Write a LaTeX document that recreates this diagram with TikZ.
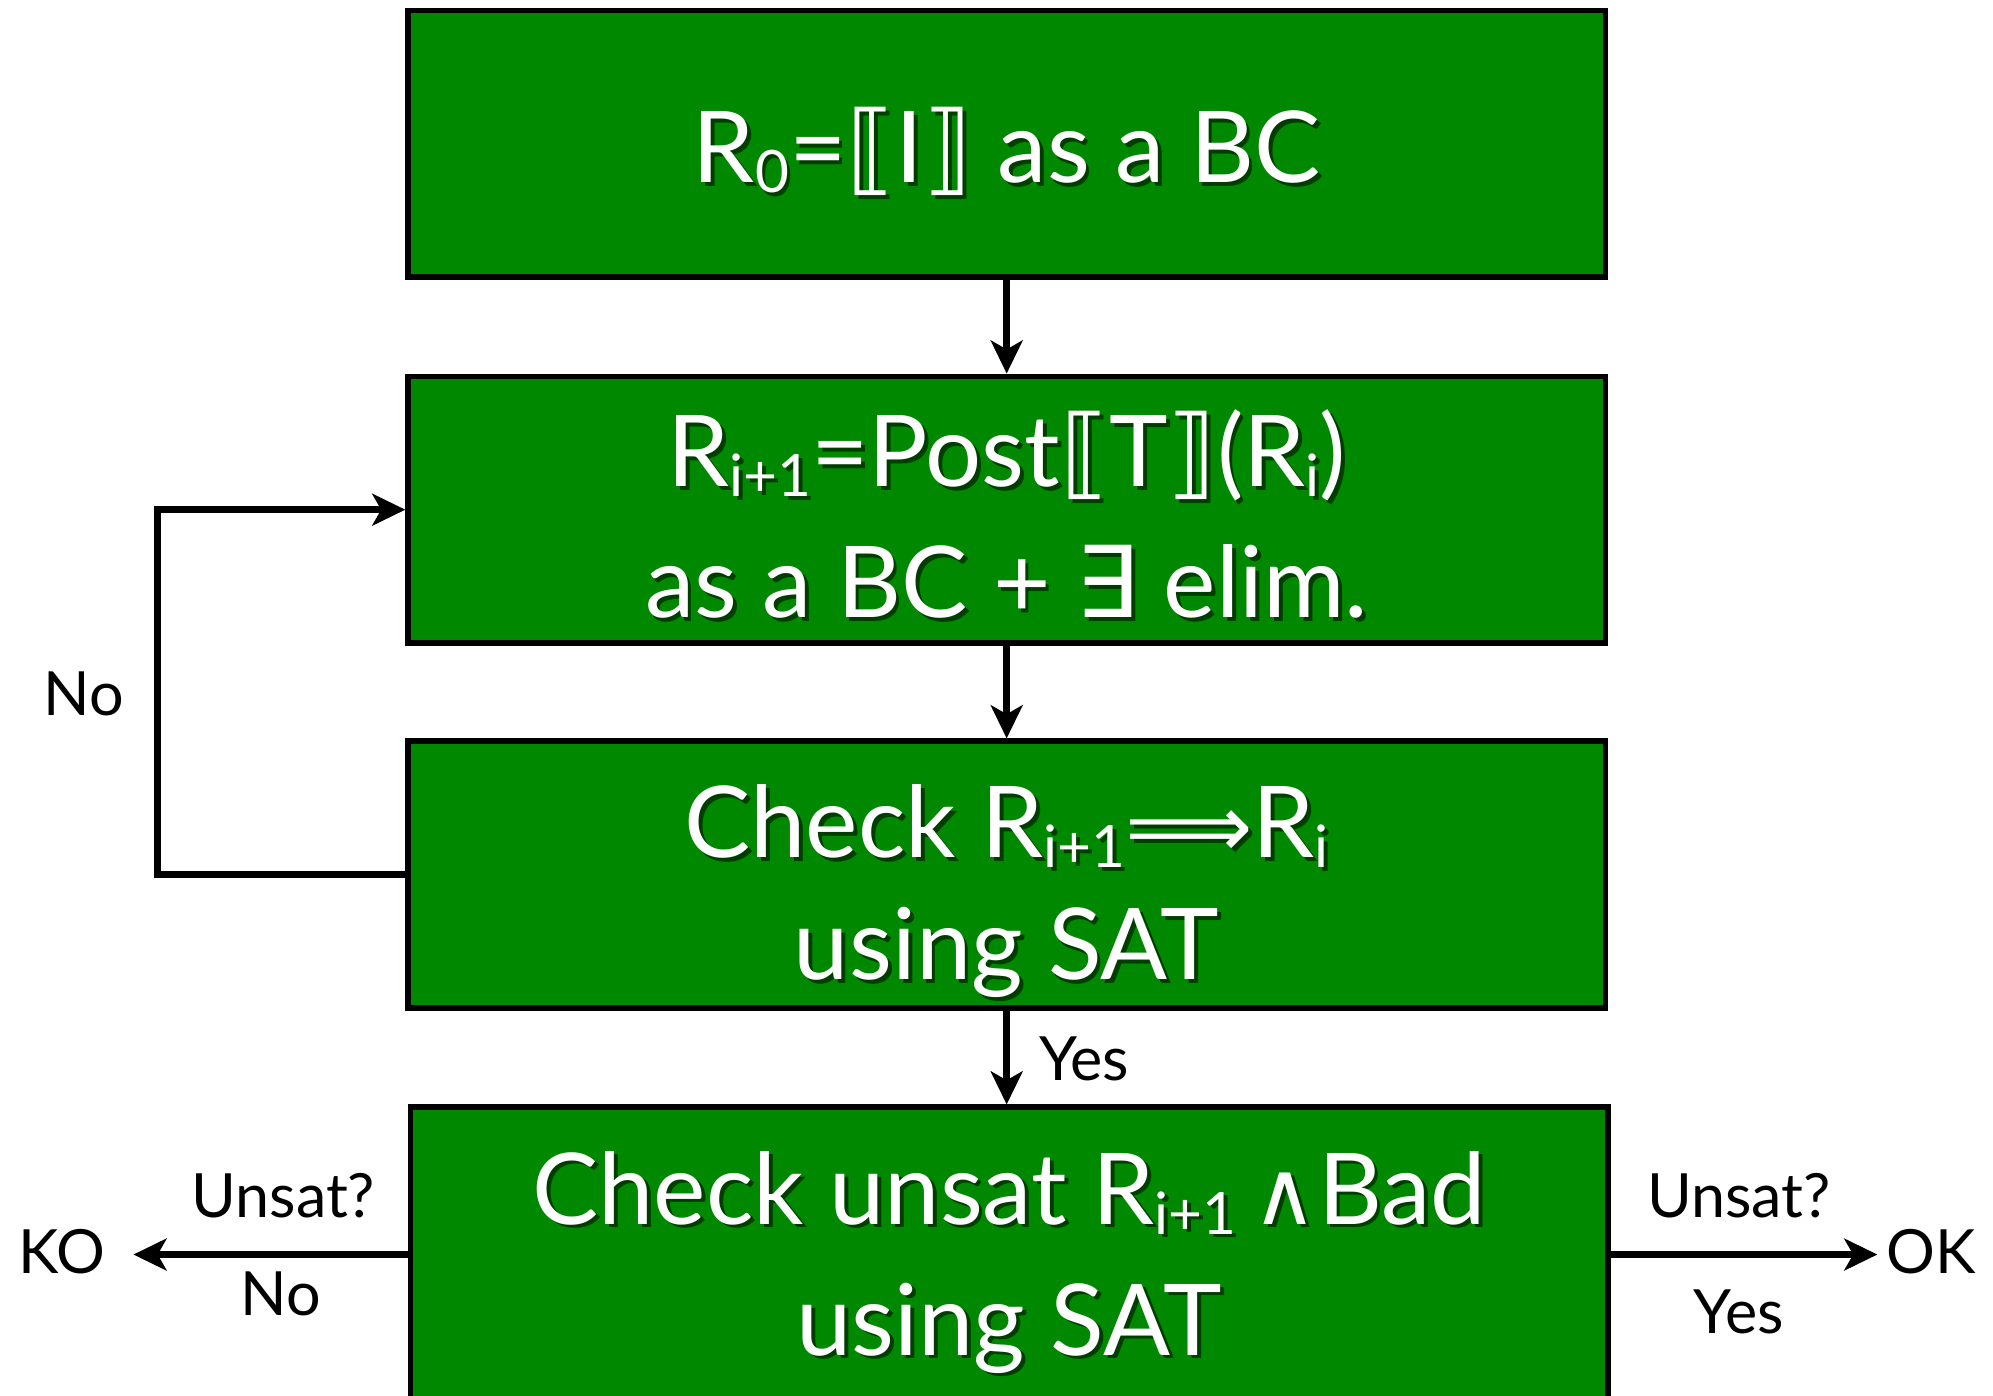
\documentclass[tikz,border=0pt]{standalone}
\usepackage{fontspec}
\setmainfont{Lato}
\newfontfamily\symfont{DejaVu Sans}
\usetikzlibrary{arrows.meta}
\definecolor{boxgreen}{RGB}{0,136,0}
\definecolor{shadowgreen}{RGB}{0,62,0}
% math symbols taken from DejaVu Sans
\newcommand\sym[1]{{\symfont #1}}
% lowered, smaller index
\newcommand\lowsub[1]{\raisebox{-0.1em}{\fontsize{46}{46}\selectfont #1}}
% white text with a dark drop shadow
\newcommand\shd[1]{\makebox[0pt][l]{\hspace{3pt}\raisebox{-3pt}{\textcolor{shadowgreen}{#1}}}#1}
% box contents: centred lines, drawn #1 lower than their centred place
\newcommand\boxlines[2]{\raisebox{-#1}[\height][\depth]{\begin{tabular}{@{}c@{}}#2\end{tabular}}}
\begin{document}
\begin{tikzpicture}[x=1pt,y=-1pt,
  box/.style={draw=black, line width=4.2pt, fill=boxgreen, text=white,
    minimum width=942pt, inner sep=0pt,
    font=\fontsize{78}{103}\selectfont},
  arr/.style={line width=5.6pt, -{Stealth[length=26pt,width=25pt,inset=7pt]}},
  lbl/.style={font=\fontsize{48}{58}\selectfont, inner sep=0pt}]
\clip (0,0) rectangle (1568,1098);

% process boxes
\node[box, minimum height=210pt] (b1) at (792,113)
  {\boxlines{10pt}{\shd{R\lowsub{0}=\sym{⟦}I\sym{⟧} as a BC}}};
\node[box, minimum height=210pt] (b2) at (792,401)
  {\boxlines{13pt}{\shd{R\lowsub{i+1}=Post\sym{⟦}T\sym{⟧}(R\lowsub{i})}\\\shd{as a BC + \sym{∃} elim.}}};
\node[box, minimum height=210pt] (b3) at (792,688)
  {\boxlines{14pt}{\shd{Check R\lowsub{i+1}{\fontsize{70}{70}\symfont ⟹}R\lowsub{i}}\\[-7pt]\shd{using SAT}}};
\node[box, minimum height=232pt] (b4) at (794,987)
  {\boxlines{7pt}{\shd{Check unsat R\lowsub{i+1}\,{\fontsize{70}{70}\symfont ∧}Bad}\\\shd{using SAT}}};

% outcome nodes
\node[lbl, anchor=base east, outer xsep=22pt] (ko) at (105,1002) {KO};
\node[lbl, anchor=base west, outer xsep=7pt] (ok) at (1477,1002) {OK};

% connectors
\draw[arr] (b1.south) -- (b2.north);
\draw[arr] (b2.south) -- (b3.north);
\draw[arr] (b3.south) -- (b3.south |- b4.north);
\coordinate (lp) at (124,688);
\draw[arr] (b3.west) -- (lp) |- (b2.west);
\draw[arr] (b4.west) -- (b4.west -| ko.east);
\draw[arr] (b4.east) -- (b4.east -| ok.west);

% edge labels
\node[lbl, anchor=base] (lno) at (66,563) {No};
\node[lbl, anchor=base] (lyes) at (853,850) {Yes};
\node[lbl, anchor=base] (lunsatl) at (223,958) {Unsat?};
\node[lbl, anchor=base] (lnol) at (221,1035) {No};
\node[lbl, anchor=base] (lunsatr) at (1368,958) {Unsat?};
\node[lbl, anchor=base] (lyesr) at (1368,1049) {Yes};
\end{tikzpicture}
\end{document}
